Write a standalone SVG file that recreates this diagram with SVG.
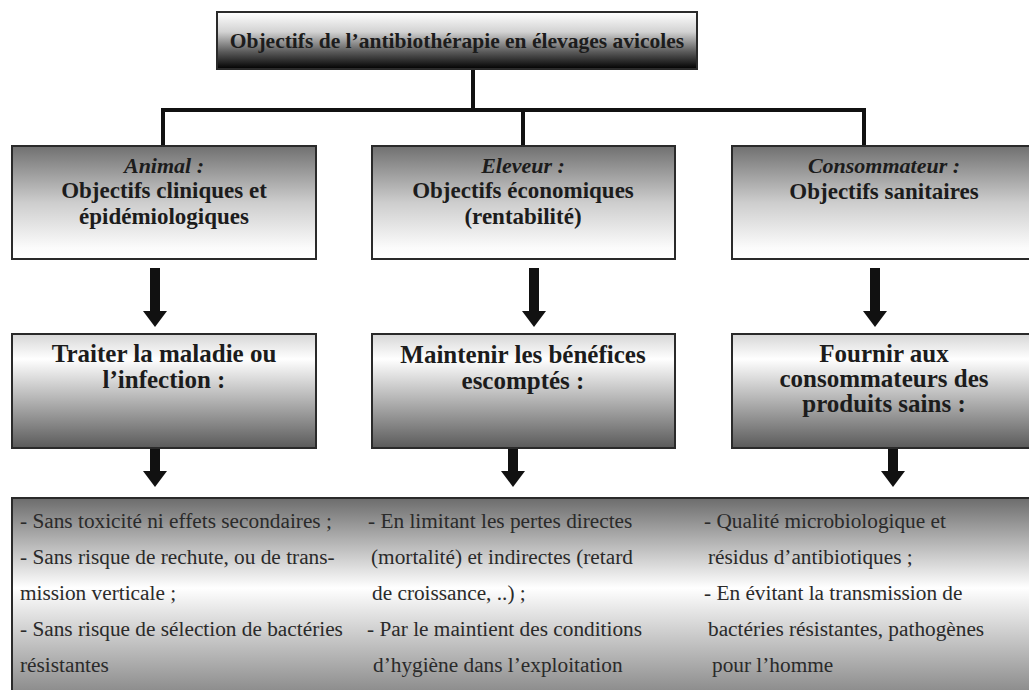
<svg xmlns="http://www.w3.org/2000/svg" width="1029" height="690" viewBox="0 0 1029 690">
<style>
text{font-family:"Liberation Serif","Times New Roman",serif;fill:#1c1c1c}
.t{font-size:21.5px;font-weight:bold;text-anchor:middle}
.h{font-size:23px;font-weight:bold;text-anchor:middle}
.hi{font-size:22px;font-weight:bold;font-style:italic;text-anchor:middle}
.g{font-size:25px;font-weight:bold;text-anchor:middle}
.b{font-size:21.3px;fill:#2a2a2a}
.box{stroke:#2a2a2a;stroke-width:2}
.wire{stroke:#111;stroke-width:4;fill:none}
.arr{stroke:#111;stroke-width:10;fill:none}
</style>
<defs>
<linearGradient id="gTitle" x1="0" y1="0" x2="0" y2="1">
<stop offset="0" stop-color="#ffffff"/><stop offset="0.35" stop-color="#d2d2d2"/><stop offset="0.7" stop-color="#5a5a5a"/><stop offset="1" stop-color="#000"/>
</linearGradient>
<linearGradient id="gRow1" x1="0" y1="0" x2="0" y2="1">
<stop offset="0" stop-color="#707070"/><stop offset="0.5" stop-color="#cdcdcd"/><stop offset="0.9" stop-color="#fbfbfb"/><stop offset="1" stop-color="#fff"/>
</linearGradient>
<linearGradient id="gRow2" x1="0" y1="0" x2="0" y2="1">
<stop offset="0" stop-color="#d6d6d6"/><stop offset="0.22" stop-color="#ffffff"/><stop offset="1" stop-color="#5a5a5a"/>
</linearGradient>
<linearGradient id="gBottom" x1="0" y1="0" x2="0" y2="1">
<stop offset="0" stop-color="#6c6c6c"/><stop offset="0.45" stop-color="#ffffff"/><stop offset="1" stop-color="#858585"/>
</linearGradient>
<marker id="head" viewBox="0 0 16 24" refX="0" refY="12" markerWidth="16" markerHeight="24" markerUnits="userSpaceOnUse" orient="auto">
<path d="M0,0 L16,12 L0,24 z" fill="#111"/>
</marker>
</defs>
<rect width="1029" height="690" fill="#fff"/>

<g id="connectors">
<path class="wire" d="M473,69 V110 M161,110 H866 M163,110 V146 M523,110 V146 M864,110 V146"/>
<line class="arr" x1="155" y1="268" x2="155" y2="311" marker-end="url(#head)"/>
<line class="arr" x1="534" y1="268" x2="534" y2="311" marker-end="url(#head)"/>
<line class="arr" x1="875" y1="268" x2="875" y2="311" marker-end="url(#head)"/>
<line class="arr" x1="155" y1="448" x2="155" y2="471" marker-end="url(#head)"/>
<line class="arr" x1="513" y1="448" x2="513" y2="471" marker-end="url(#head)"/>
<line class="arr" x1="893" y1="448" x2="893" y2="471" marker-end="url(#head)"/>
</g>

<g id="title">
<rect class="box" x="217" y="12" width="480" height="57" fill="url(#gTitle)"/>
<text class="t" x="457" y="48">Objectifs de l’antibiothérapie en élevages avicoles</text>
</g>

<g id="animal">
<rect class="box" x="12" y="146" width="304" height="113" fill="url(#gRow1)"/>
<text class="hi" x="164" y="173">Animal :</text>
<text class="h" x="164" y="198">Objectifs cliniques et</text>
<text class="h" x="164" y="224">épidémiologiques</text>
</g>

<g id="eleveur">
<rect class="box" x="372" y="146" width="303" height="113" fill="url(#gRow1)"/>
<text class="hi" x="523" y="173">Eleveur :</text>
<text class="h" x="523" y="198">Objectifs économiques</text>
<text class="h" x="523" y="224">(rentabilité)</text>
</g>

<g id="consommateur">
<rect class="box" x="732" y="146" width="304" height="113" fill="url(#gRow1)"/>
<text class="hi" x="884" y="173">Consommateur :</text>
<text class="h" x="884" y="199">Objectifs sanitaires</text>
</g>

<g id="traiter">
<rect class="box" x="12" y="334" width="304" height="114" fill="url(#gRow2)"/>
<text class="g" x="164" y="362">Traiter la maladie ou</text>
<text class="g" x="164" y="388">l’infection :</text>
</g>

<g id="maintenir">
<rect class="box" x="372" y="334" width="303" height="114" fill="url(#gRow2)"/>
<text class="g" x="523" y="363">Maintenir les bénéfices</text>
<text class="g" x="523" y="389">escomptés :</text>
</g>

<g id="fournir">
<rect class="box" x="732" y="334" width="304" height="114" fill="url(#gRow2)"/>
<text class="g" x="884" y="362">Fournir aux</text>
<text class="g" x="884" y="387">consommateurs des</text>
<text class="g" x="884" y="412">produits sains :</text>
</g>

<g id="details">
<rect class="box" x="12" y="498" width="1030" height="200" fill="url(#gBottom)"/>
<text class="b" x="20" y="528">- Sans toxicité ni effets secondaires ;</text>
<text class="b" x="20" y="564">- Sans risque de rechute, ou de trans-</text>
<text class="b" x="20" y="600">mission verticale ;</text>
<text class="b" x="20" y="636">- Sans risque de sélection de bactéries</text>
<text class="b" x="20" y="672">résistantes</text>
<text class="b" x="368" y="528">- En limitant les pertes directes</text>
<text class="b" x="371" y="564">(mortalité) et indirectes (retard</text>
<text class="b" x="372" y="600">de croissance, ..) ;</text>
<text class="b" x="367" y="636">- Par le maintient des conditions</text>
<text class="b" x="373" y="672">d’hygiène dans l’exploitation</text>
<text class="b" x="704" y="528">- Qualité microbiologique et</text>
<text class="b" x="708" y="564">résidus d’antibiotiques ;</text>
<text class="b" x="704" y="600">- En évitant la transmission de</text>
<text class="b" x="708" y="636">bactéries résistantes, pathogènes</text>
<text class="b" x="712" y="672">pour l’homme</text>
</g>
</svg>
